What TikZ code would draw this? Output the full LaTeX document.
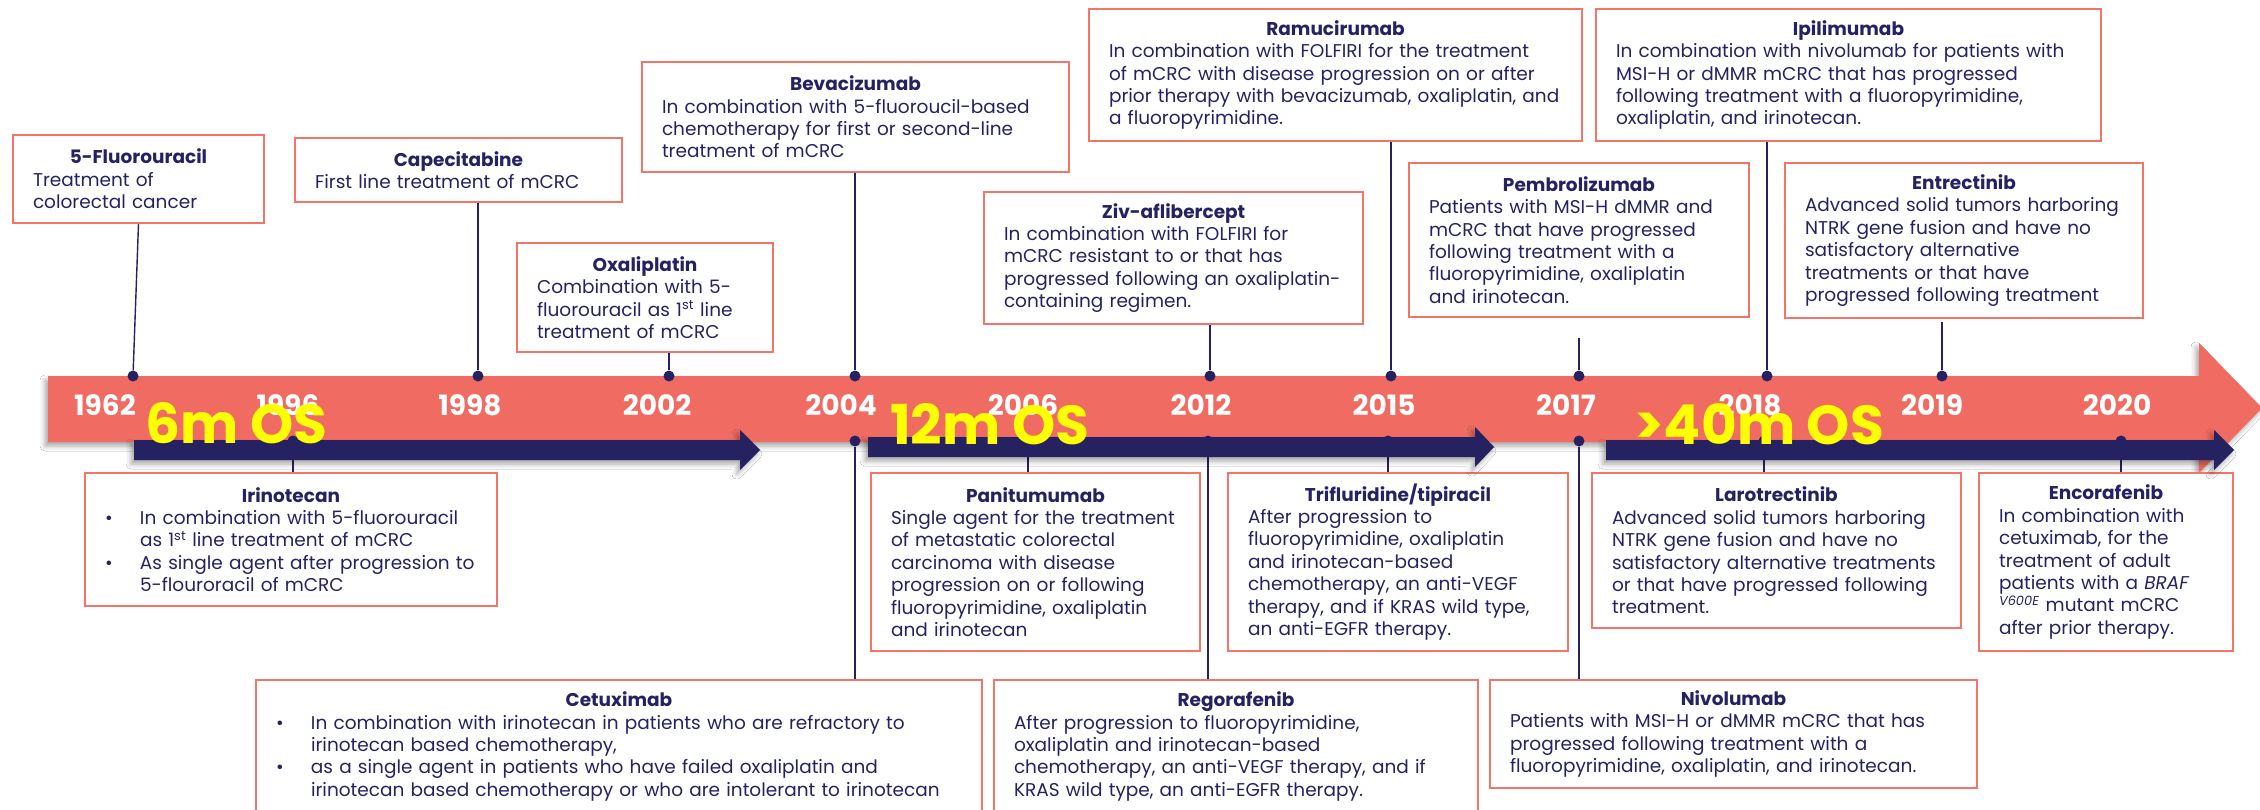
\documentclass[tikz,border=0pt]{standalone}
\usepackage{fontspec}
\setmainfont{Poppins}
\usetikzlibrary{shadows.blur}
\definecolor{navy}{HTML}{262262}
\definecolor{coral}{HTML}{F06B61}
\definecolor{boxline}{HTML}{F2756A}
\definecolor{ostext}{HTML}{FFFF00}
\newcommand\bodysize{\fontsize{18.5}{22.4}\selectfont}
% bullet paragraph with hanging indent; continue lines with \newline
\newcommand\bitem{\par\hangindent=35pt\hangafter=1\noindent\makebox[35pt][l]{\textbullet}}
\newcommand\hd[1]{{\centering\bfseries #1\par}}
\begin{document}
\begin{tikzpicture}[x=1pt,y=-1pt,
  card/.style={draw=boxline, line width=2pt, fill=white, anchor=north west,
    inner xsep=20pt, inner ysep=0pt, align=left, text=navy, font=\bodysize},
  dot/.style={circle, fill=navy, inner sep=0pt, minimum size=11pt},
  link/.style={draw=navy, line width=1.4pt},
  year/.style={text=white, font=\fontsize{28}{28}\selectfont\bfseries, inner sep=0pt},
  os/.style={text=ostext, font=\fontsize{55}{55}\selectfont\bfseries, inner sep=0pt, anchor=base west},
  soft/.style={blur shadow={shadow xshift=-3pt, shadow yshift=-4pt, shadow blur radius=5pt, shadow opacity=35}}
]
\clip (0,0) rectangle (2260,809);
\fill[white] (0,0) rectangle (2260,809);

% timeline band
\fill[coral, soft] (48,376) -- (2199,376) -- (2199,343) -- (2262,408) -- (2199,473)
  -- (2199,442) -- (48,442) -- cycle;

% year markers on the upper edge
\node[dot] (t1962) at (133,376) {};
\node[dot] (t1998) at (478,376) {};
\node[dot] (t2002) at (669,376) {};
\node[dot] (t2004) at (855,376) {};
\node[dot] (t2012) at (1210,376) {};
\node[dot] (t2015) at (1391,376) {};
\node[dot] (t2017) at (1579,376) {};
\node[dot] (t2018) at (1767,376) {};
\node[dot] (t2019) at (1942,376) {};

% year markers on the lower edge
\node[dot] (b1996) at (293,441) {};
\node[dot] (b2004) at (855,441) {};
\node[dot] (b2006) at (1028,441) {};
\node[dot] (b2012) at (1208,441) {};
\node[dot] (b2015) at (1388,441) {};
\node[dot] (b2017) at (1579,441) {};
\node[dot] (b2018) at (1764,441) {};
\node[dot] (b2020) at (2121,441) {};

% approvals above the band
\node[card, text width=211pt, minimum height=88pt] (fu) at (12,134)
  {\hd{5-Fluorouracil}Treatment of\\colorectal cancer};
\node[card, text width=287pt, minimum height=64pt] (cap) at (294,137)
  {\hd{Capecitabine}First line treatment of mCRC};
\node[card, text width=216pt, minimum height=109pt] (oxa) at (516,242)
  {\hd{Oxaliplatin}Combination with 5-\\fluorouracil as 1\textsuperscript{st} line\\treatment of mCRC};
\node[card, text width=387pt, minimum height=110pt] (bev) at (641,61)
  {\hd{Bevacizumab}In combination with 5-fluoroucil-based\\chemotherapy for first or second-line\\treatment of mCRC};
\node[card, text width=339pt, minimum height=132pt] (ziv) at (983,191)
  {\hd{Ziv-aflibercept}In combination with FOLFIRI for\\mCRC resistant to or that has\\progressed following an oxaliplatin-\\containing regimen.};
\node[card, text width=453pt, minimum height=132pt] (ram) at (1088,8)
  {\hd{Ramucirumab}In combination with FOLFIRI for the treatment\\of mCRC with disease progression on or after\\prior therapy with bevacizumab, oxaliplatin, and\\a fluoropyrimidine.};
\node[card, text width=300pt, minimum height=154pt] (pem) at (1408,162)
  {\hd{Pembrolizumab}Patients with MSI-H dMMR and\\mCRC that have progressed\\following treatment with a\\fluoropyrimidine, oxaliplatin\\and irinotecan.};
\node[card, text width=465pt, minimum height=132pt] (ipi) at (1595,8)
  {\hd{Ipilimumab}In combination with nivolumab for patients with\\MSI-H or dMMR mCRC that has progressed\\following treatment with a fluoropyrimidine,\\oxaliplatin, and irinotecan.};
\node[card, text width=318pt, minimum height=155pt] (ent) at (1784,162)
  {\hd{Entrectinib}Advanced solid tumors harboring\\NTRK gene fusion and have no\\satisfactory alternative\\treatments or that have\\progressed following treatment};

% approvals below the band
\node[card, text width=372pt, minimum height=133pt] (iri) at (84,472)
  {\hd{Irinotecan}\bitem In combination with 5-fluorouracil\newline as 1\textsuperscript{st} line treatment of mCRC
   \bitem As single agent after progression to\newline 5-flouroracil of mCRC\par};
\node[card, text width=289pt, minimum height=178pt] (pan) at (870,472)
  {\hd{Panitumumab}Single agent for the treatment\\of metastatic colorectal\\carcinoma with disease\\progression on or following\\fluoropyrimidine, oxaliplatin\\and irinotecan};
\node[card, text width=300pt, minimum height=178pt] (tri) at (1227,472)
  {\hd{Trifluridine/tipiracil}After progression to\\fluoropyrimidine, oxaliplatin\\and irinotecan-based\\chemotherapy, an anti-VEGF\\therapy, and if KRAS wild type,\\an anti-EGFR therapy.};
\node[card, text width=329pt, minimum height=155pt] (lar) at (1591,472)
  {\hd{Larotrectinib}Advanced solid tumors harboring\\NTRK gene fusion and have no\\satisfactory alternative treatments\\or that have progressed following\\treatment.};
\node[card, text width=214pt, minimum height=178pt] (enc) at (1978,472)
  {\hd{Encorafenib}In combination with\\cetuximab, for the\\treatment of adult\\patients with a \textit{BRAF}\\\textsuperscript{\textit{V600E}} mutant mCRC\\after prior therapy.};
\node[card, text width=686pt, minimum height=133pt] (cet) at (255,679)
  {\hd{Cetuximab}\bitem In combination with irinotecan in patients who are refractory to\newline irinotecan based chemotherapy,
   \bitem as a single agent in patients who have failed oxaliplatin and\newline irinotecan based chemotherapy or who are intolerant to irinotecan\par};
\node[card, text width=444pt, minimum height=133pt] (reg) at (993,679)
  {\hd{Regorafenib}After progression to fluoropyrimidine,\\oxaliplatin and irinotecan-based\\chemotherapy, an anti-VEGF therapy, and if\\KRAS wild type, an anti-EGFR therapy.};
\node[card, text width=447pt, minimum height=108pt] (niv) at (1489,679)
  {\hd{Nivolumab}Patients with MSI-H or dMMR mCRC that has\\progressed following treatment with a\\fluoropyrimidine, oxaliplatin, and irinotecan.};

% connectors from the markers to their cards
\coordinate (c2017) at (1579,338);
\coordinate (c2019) at (1942,322);
\draw[link] (fu.south) -- (t1962);
\draw[link] (t1998) -- (t1998 |- cap.south);
\draw[link] (t2002) -- (t2002 |- oxa.south);
\draw[link] (t2004) -- (t2004 |- bev.south);
\draw[link] (t2012) -- (t2012 |- ziv.south);
\draw[link] (t2015) -- (t2015 |- ram.south);
\draw[link] (t2017) -- (c2017);
\draw[link] (t2018) -- (t2018 |- ipi.south);
\draw[link] (t2019) -- (c2019);
\draw[link] (b1996) -- (b1996 |- iri.north);
\draw[link] (b2004) -- (b2004 |- cet.north);
\draw[link] (b2006) -- (b2006 |- pan.north);
\draw[link] (b2012) -- (b2012 |- reg.north);
\draw[link] (b2015) -- (b2015 |- tri.north);
\draw[link] (b2017) -- (b2017 |- niv.north);
\draw[link] (b2018) -- (b2018 |- lar.north);
\draw[link] (b2020) -- (b2020 |- enc.north);

% survival arrows
\fill[navy, soft] (134,440) -- (740,440) -- (740,430) -- (760,450) -- (740,470)
  -- (740,460) -- (134,460) -- cycle;
\fill[navy, soft] (868,437) -- (1475,437) -- (1475,427) -- (1494,447) -- (1475,467)
  -- (1475,457) -- (868,457) -- cycle;
\fill[navy, soft] (1606,440) -- (2214,440) -- (2214,430) -- (2234,450) -- (2214,470)
  -- (2214,460) -- (1606,460) -- cycle;

% years
\node[year] (y1962) at (105,405) {1962};
\node[year] (y1996) at (288,405) {1996};
\node[year] (y1998) at (470,405) {1998};
\node[year] (y2002) at (657,405) {2002};
\node[year] (y2004) at (841,405) {2004};
\node[year] (y2006) at (1023,405) {2006};
\node[year] (y2012) at (1201,405) {2012};
\node[year] (y2015) at (1384,405) {2015};
\node[year] (y2017) at (1566,405) {2017};
\node[year] (y2018) at (1750,405) {2018};
\node[year] (y2019) at (1932,405) {2019};
\node[year] (y2020) at (2117,405) {2020};

% overall survival labels
\node[os] (os6) at (145,443) {6m OS};
\node[os] (os12) at (890,444) {12m OS};
\node[os] (os40) at (1634,444) {>40m OS};
\end{tikzpicture}
\end{document}
